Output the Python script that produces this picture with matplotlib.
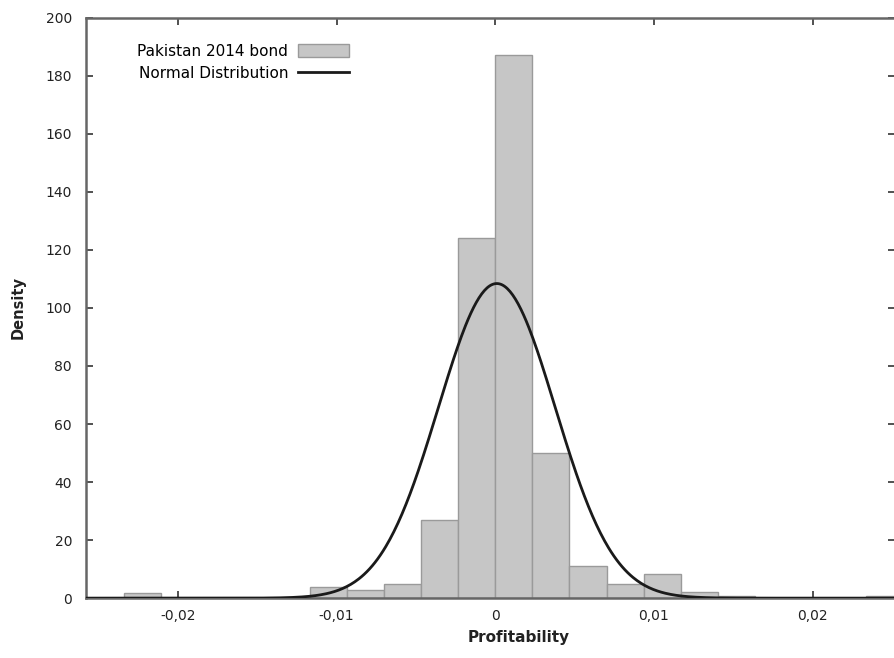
import numpy as np
import matplotlib.pyplot as plt
from matplotlib.ticker import FixedLocator

# histogram of returns (density), bin width and bar heights
bin_width = 0.00234
bin_index = [-10, -5, -4, -3, -2, -1, 0, 1, 2, 3, 4, 5, 6, 10]
density = [1.8, 3.8, 2.8, 4.8, 27, 124, 187, 50, 11, 4.8, 8.3, 2.0, 0.7, 0.7]

# fitted normal distribution
mu = 0.0001
sigma = 0.00368

x_ticks = [-0.02, -0.01, 0.0, 0.01, 0.02]
x_labels = ["-0,02", "-0,01", "0", "0,01", "0,02"]
y_ticks = list(range(0, 201, 20))

fig = plt.figure(figsize=(8.95, 6.58), dpi=100)
ax = fig.add_axes([0.096, 0.091, 0.904, 0.882])

left_edges = np.array(bin_index) * bin_width
bars = ax.bar(left_edges, density, width=bin_width, align="edge",
              color="#c6c6c6", edgecolor="#9a9a9a", linewidth=1.0,
              label="Pakistan 2014 bond", zorder=2)

xs = np.linspace(-0.0258, 0.0252, 600)
pdf = np.exp(-0.5 * ((xs - mu) / sigma) ** 2) / (sigma * np.sqrt(2 * np.pi))
line, = ax.plot(xs, pdf, color="#1a1a1a", linewidth=2.0,
                label="Normal Distribution", zorder=3)

ax.set_xlim(-0.0258, 0.0252)
ax.set_ylim(0, 200)
ax.xaxis.set_major_locator(FixedLocator(x_ticks))
ax.set_xticklabels(x_labels)
ax.set_yticks(y_ticks)

ax.tick_params(direction="in", length=5, width=1.2, top=True, right=True,
               labelsize=10, colors="#333333", labelcolor="#222222")
ax.tick_params(axis="x", pad=8)
ax.tick_params(axis="y", pad=10)
for s in ax.spines.values():
    s.set_color("#666666")
    s.set_linewidth(1.8)

ax.set_xlabel("Profitability", fontsize=11, fontweight="bold", color="#222222")
ax.xaxis.set_label_coords(0.535, -0.055)
ax.set_ylabel("Density", fontsize=10.5, fontweight="bold", color="#222222")
ax.yaxis.set_label_coords(-0.074, 0.5)

ax.legend([bars, line], ["Pakistan 2014 bond", "Normal Distribution"],
          loc="upper right", bbox_to_anchor=(0.399, 0.945),
          bbox_transform=fig.transFigure, borderpad=0, frameon=False,
          markerfirst=False, fontsize=11, handlelength=3.4, handleheight=0.9,
          handletextpad=0.6, labelspacing=0.45)

fig.savefig("out.png", dpi=100)
